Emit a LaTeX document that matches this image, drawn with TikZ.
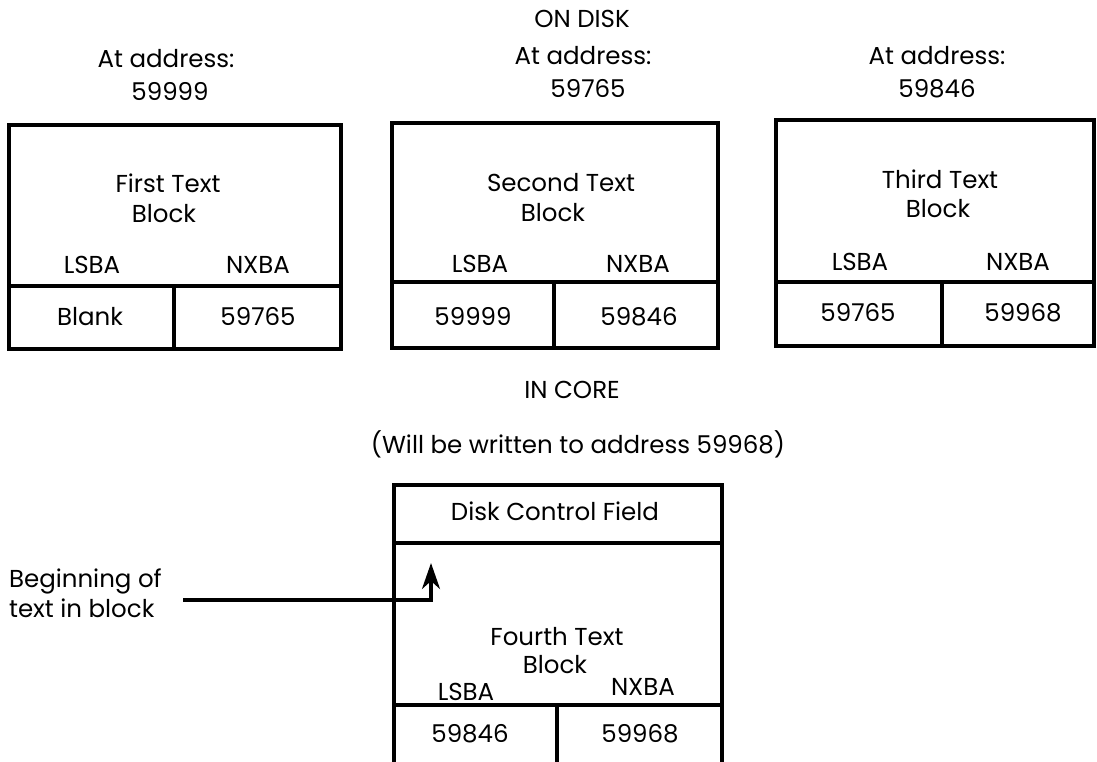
\documentclass[tikz,border=0pt]{standalone}
\usepackage{fontspec}
\setmainfont{Poppins}
\usetikzlibrary{arrows.meta}
\begin{document}
\begin{tikzpicture}[x=1pt,y=-1pt,
  frame/.style={line width=3.4pt,line cap=rect},
  txt/.style={font=\fontsize{24.5}{30}\selectfont,inner sep=0pt,anchor=base},
  conn/.style={line width=3.2pt,-{Stealth[length=26pt,width=18pt,inset=8pt]}}]
\useasboundingbox (0,0) rectangle (1097,761);

% headings (text placed by baseline)
\node[txt] (ondisk) at (582,27) {ON DISK};
\node[txt] (addrA) at (166,67) {At address:};
\node[txt] (addrAv) at (170,100) {59999};
\node[txt] (addrB) at (583,64) {At address:};
\node[txt] (addrBv) at (588,97) {59765};
\node[txt] (addrC) at (937,64) {At address:};
\node[txt] (addrCv) at (937,97) {59846};

% first block on disk
\draw[frame] (9,125) rectangle (341,349);
\draw[frame] (9,286) -- (341,286) (174,286) -- (174,349);
\node[txt] (blkA1) at (168,192) {First Text};
\node[txt] (blkA2) at (164,222) {Block};
\node[txt] (lsbaA) at (92,273) {LSBA};
\node[txt] (nxbaA) at (258,273) {NXBA};
\node[txt] (valA1) at (90,325) {Blank};
\node[txt] (valA2) at (258,325) {59765};

% second block on disk
\draw[frame] (392,123) rectangle (718,348);
\draw[frame] (392,282) -- (718,282) (554,282) -- (554,348);
\node[txt] (blkB1) at (561,191) {Second Text};
\node[txt] (blkB2) at (553,221) {Block};
\node[txt] (lsbaB) at (480,272) {LSBA};
\node[txt] (nxbaB) at (638,272) {NXBA};
\node[txt] (valB1) at (473,325) {59999};
\node[txt] (valB2) at (639,325) {59846};

% third block on disk
\draw[frame] (776,120) rectangle (1094,346);
\draw[frame] (776,282) -- (1094,282) (942,282) -- (942,346);
\node[txt] (blkC1) at (940,188) {Third Text};
\node[txt] (blkC2) at (938,217) {Block};
\node[txt] (lsbaC) at (860,270) {LSBA};
\node[txt] (nxbaC) at (1018,270) {NXBA};
\node[txt] (valC1) at (858,321) {59765};
\node[txt] (valC2) at (1023,321) {59968};

% block in core
\node[txt] (incore) at (572,398) {IN CORE};
\node[txt] (target) at (578,453) {(Will be written to address 59968)};
\draw[frame] (394,765) -- (394,485) -- (722,485) -- (722,765);
\draw[frame] (394,543) -- (722,543) (394,705) -- (722,705) (557,705) -- (557,765);
\node[txt] (dcf) at (555,520) {Disk Control Field};
\node[txt] (blkD1) at (557,645) {Fourth Text};
\node[txt] (blkD2) at (555,673) {Block};
\node[txt] (lsbaD) at (466,700) {LSBA};
\node[txt] (nxbaD) at (643,695) {NXBA};
\node[txt] (valD1) at (470,742) {59846};
\node[txt] (valD2) at (640,742) {59968};

% pointer to the start of the text
\node[txt,anchor=base east] (begin1) at (162,587) {Beginning of};
\node[txt,anchor=base west] (begin2) at (begin1.base west |- 0,617) {text in block};
\coordinate (start) at (183,600);
\coordinate (tip) at (431,563);
\draw[conn] (start) -| (tip);
\end{tikzpicture}
\end{document}
